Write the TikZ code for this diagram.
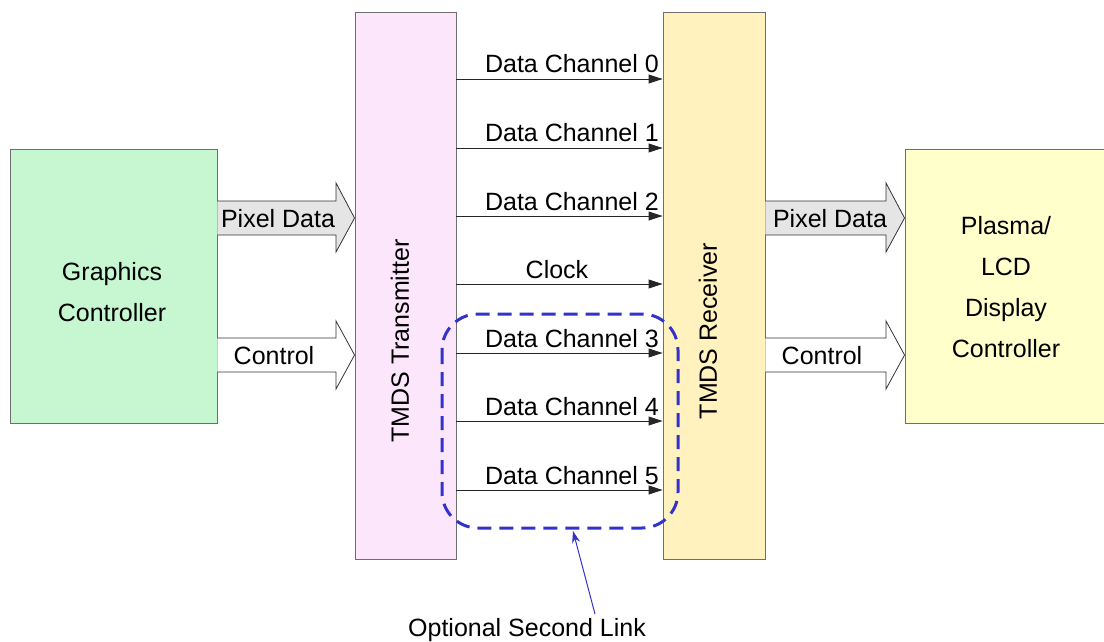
\documentclass[tikz,border=0pt]{standalone}
\usepackage{fontspec}
\setmainfont{Liberation Sans}
\usetikzlibrary{arrows.meta,calc}
\definecolor{gcgreen}{RGB}{198,247,208}
\definecolor{txpink}{RGB}{252,230,252}
\definecolor{rxyellow}{RGB}{255,242,190}
\definecolor{plyellow}{RGB}{255,255,204}
\definecolor{linkblue}{RGB}{51,51,204}
\definecolor{edge}{RGB}{110,110,110}
\begin{document}
\begin{tikzpicture}[x=1pt,y=-1pt,
  every node/.style={font=\fontsize{25}{41}\selectfont, inner sep=0pt},
  blockbox/.style={draw=edge, line width=0.9pt, minimum width=#1},
  chan/.style={-{Triangle[length=14pt,width=9pt]}, line width=0.9pt, black!85},
  chanlabel/.style={anchor=base east},
  bigarrow/.style={draw=black!80, line width=0.8pt},
  linkbox/.style={draw=linkblue, line width=3pt, dash pattern=on 14pt off 8pt, rounded corners=36pt},
]
\useasboundingbox (0,0) rectangle (1104,642);

% boxes
\node[draw=edge, line width=0.9pt, fill=gcgreen, minimum width=207pt, minimum height=274pt] (gc) at (113.5,286) {};
\node[align=center] (gctext) at (112,292) {Graphics\\Controller};
\node[draw=edge, line width=0.9pt, fill=txpink, minimum width=101pt, minimum height=547pt] (tx) at (405.5,285.5) {};
\node[rotate=90] (txtext) at (400,341) {TMDS Transmitter};
\node[draw=edge, line width=0.9pt, fill=rxyellow, minimum width=102pt, minimum height=547pt] (rx) at (714,285.5) {};
\node[rotate=90] (rxtext) at (708,331) {TMDS Receiver};
\node[draw=edge, line width=0.9pt, fill=plyellow, minimum width=199pt, minimum height=274pt] (pl) at (1004.5,286) {};
\node[align=center] (pltext) at (1006,287) {Plasma/\\LCD\\Display\\Controller};

% block arrows left
\draw[bigarrow, fill=black!10] (gc.east |- 0,201) -- (336,201) -- (336,183) -- (tx.west |- 0,218) -- (336,252) -- (336,235) -- (gc.east |- 0,235) ;
\node (pd1) at (278,218.5) {Pixel Data};
\draw[bigarrow, fill=white] (gc.east |- 0,338) -- (336,338) -- (336,321) -- (tx.west |- 0,355) -- (336,389) -- (336,372) -- (gc.east |- 0,372) ;
\node (ct1) at (274,355.5) {Control};

% block arrows right
\draw[bigarrow, fill=black!10] (rx.east |- 0,201) -- (886,201) -- (886,183) -- (pl.west |- 0,218) -- (886,252) -- (886,235) -- (rx.east |- 0,235) ;
\node (pd2) at (830,218.5) {Pixel Data};
\draw[bigarrow, fill=white] (rx.east |- 0,338) -- (886,338) -- (886,321) -- (pl.west |- 0,355) -- (886,389) -- (886,372) -- (rx.east |- 0,372) ;
\node (ct2) at (822,355.5) {Control};

% channels
\draw[chan] (tx.east |- 0,79) -- (rx.west |- 0,79);
\node[chanlabel] (l0) at (659,73) {Data Channel 0};
\draw[chan] (tx.east |- 0,148) -- (rx.west |- 0,148);
\node[chanlabel] (l1) at (659,142) {Data Channel 1};
\draw[chan] (tx.east |- 0,216) -- (rx.west |- 0,216);
\node[chanlabel] (l2) at (659,210) {Data Channel 2};
\draw[chan] (tx.east |- 0,284) -- (rx.west |- 0,284);
\node[anchor=base] (lclk) at (557,278) {Clock};
\draw[chan] (tx.east |- 0,353) -- (rx.west |- 0,353);
\node[chanlabel] (l3) at (659,347) {Data Channel 3};
\draw[chan] (tx.east |- 0,421) -- (rx.west |- 0,421);
\node[chanlabel] (l4) at (659,415) {Data Channel 4};
\draw[chan] (tx.east |- 0,490) -- (rx.west |- 0,490);
\node[chanlabel] (l5) at (659,484) {Data Channel 5};

% optional link
\draw[linkbox] (442,314) rectangle (678,528);
\coordinate (linkpt) at (573,531);
\node (opt) at (527,630) {Optional Second Link};
\draw[linkblue, line width=1pt, -{Stealth[length=12pt,width=8pt]}] (595,614) -- (linkpt);
\end{tikzpicture}
\end{document}
